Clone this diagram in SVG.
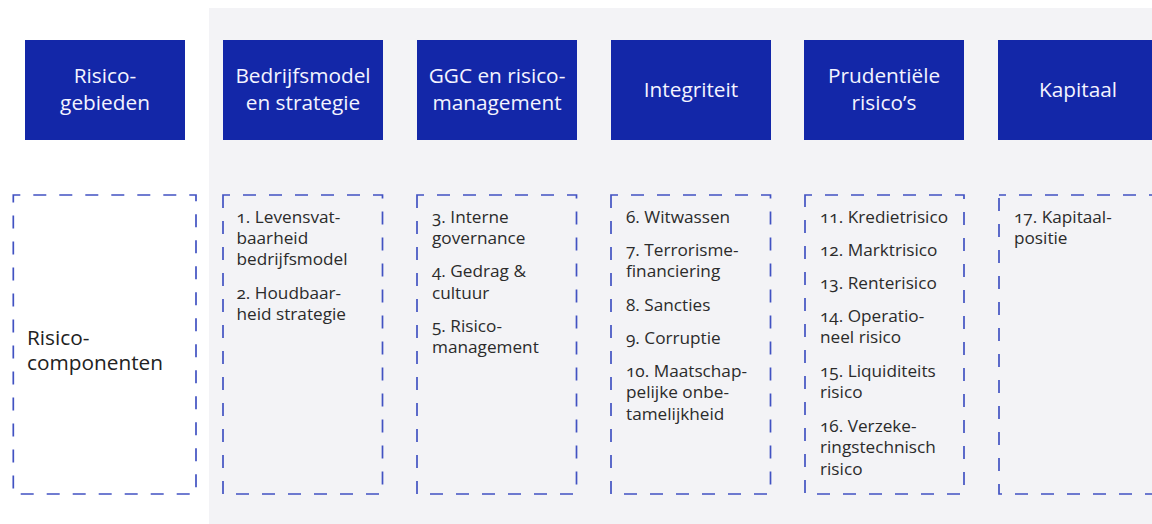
<svg xmlns="http://www.w3.org/2000/svg" width="1152" height="524" viewBox="0 0 1152 524">
<style>
.hdr{fill:#1327A8}
.ht{font-family:"Open Sans","Noto Sans",sans-serif;font-size:20.8px;fill:#F4F4FF;text-anchor:middle}
.box{fill:none;stroke:#4152C2;stroke-width:1.7;stroke-dasharray:13 13;stroke-dashoffset:6}
.bt{font-family:"Open Sans","Noto Sans",sans-serif;font-size:17.2px;fill:#2B2B2B;font-variant-numeric:oldstyle-nums}
.lt{font-family:"Open Sans","Noto Sans",sans-serif;font-size:20.8px;fill:#222222}
</style>
<rect x="0" y="0" width="1152" height="524" fill="#FFFFFF"/>
<rect x="209" y="8" width="943" height="516" fill="#F3F3F6"/>
<g id="connectors"/>
<g id="h-risicogebieden">
<rect class="hdr" x="25" y="40" width="160" height="100"/>
<text class="ht" x="105" y="83">Risico-</text>
<text class="ht" x="105" y="110">gebieden</text>
</g>
<g id="h-bedrijfsmodel">
<rect class="hdr" x="223" y="40" width="160" height="100"/>
<text class="ht" x="303" y="83">Bedrijfsmodel</text>
<text class="ht" x="303" y="110">en strategie</text>
</g>
<g id="h-ggc">
<rect class="hdr" x="417" y="40" width="160" height="100"/>
<text class="ht" x="497" y="83">GGC en risico-</text>
<text class="ht" x="497" y="110">management</text>
</g>
<g id="h-integriteit">
<rect class="hdr" x="611" y="40" width="160" height="100"/>
<text class="ht" x="691" y="97">Integriteit</text>
</g>
<g id="h-prudentiele">
<rect class="hdr" x="804" y="40" width="160" height="100"/>
<text class="ht" x="884" y="83">Prudentiële</text>
<text class="ht" x="884" y="110">risico’s</text>
</g>
<g id="h-kapitaal">
<rect class="hdr" x="998" y="40" width="170" height="100"/>
<text class="ht" x="1078" y="97">Kapitaal</text>
</g>
<g id="c-risicocomponenten">
<rect class="box" x="13.3" y="195" width="182.7" height="299"/>
<text class="lt" x="27" y="345">Risico-</text>
<text class="lt" x="27" y="370">componenten</text>
</g>
<g id="c-bedrijfsmodel">
<rect class="box" x="223" y="195" width="159.5" height="299"/>
<text class="bt" x="236.5" y="223">1. Levensvat-</text>
<text class="bt" x="236.5" y="244">baarheid</text>
<text class="bt" x="236.5" y="265">bedrijfsmodel</text>
<text class="bt" x="236.5" y="299">2. Houdbaar-</text>
<text class="bt" x="236.5" y="320">heid strategie</text>
</g>
<g id="c-ggc">
<rect class="box" x="417" y="195" width="159.5" height="299"/>
<text class="bt" x="432" y="223">3. Interne</text>
<text class="bt" x="432" y="244">governance</text>
<text class="bt" x="432" y="277">4. Gedrag &amp;</text>
<text class="bt" x="432" y="299">cultuur</text>
<text class="bt" x="432" y="332">5. Risico-</text>
<text class="bt" x="432" y="353">management</text>
</g>
<g id="c-integriteit">
<rect class="box" x="611" y="195" width="159.5" height="299"/>
<text class="bt" x="626" y="223">6. Witwassen</text>
<text class="bt" x="626" y="256">7. Terrorisme-</text>
<text class="bt" x="626" y="277">financiering</text>
<text class="bt" x="626" y="311">8. Sancties</text>
<text class="bt" x="626" y="344">9. Corruptie</text>
<text class="bt" x="626" y="377">10. Maatschap-</text>
<text class="bt" x="626" y="398">pelijke onbe-</text>
<text class="bt" x="626" y="420">tamelijkheid</text>
</g>
<g id="c-prudentiele">
<rect class="box" x="805" y="195" width="159" height="299"/>
<text class="bt" x="820" y="223">11. Kredietrisico</text>
<text class="bt" x="820" y="256">12. Marktrisico</text>
<text class="bt" x="820" y="289">13. Renterisico</text>
<text class="bt" x="820" y="322">14. Operatio-</text>
<text class="bt" x="820" y="343">neel risico</text>
<text class="bt" x="820" y="377">15. Liquiditeits</text>
<text class="bt" x="820" y="398">risico</text>
<text class="bt" x="820" y="432">16. Verzeke-</text>
<text class="bt" x="820" y="453">ringstechnisch</text>
<text class="bt" x="820" y="475">risico</text>
</g>
<g id="c-kapitaal">
<rect class="box" x="999" y="195" width="200" height="299"/>
<text class="bt" x="1014" y="223">17. Kapitaal-</text>
<text class="bt" x="1014" y="244">positie</text>
</g>
</svg>
